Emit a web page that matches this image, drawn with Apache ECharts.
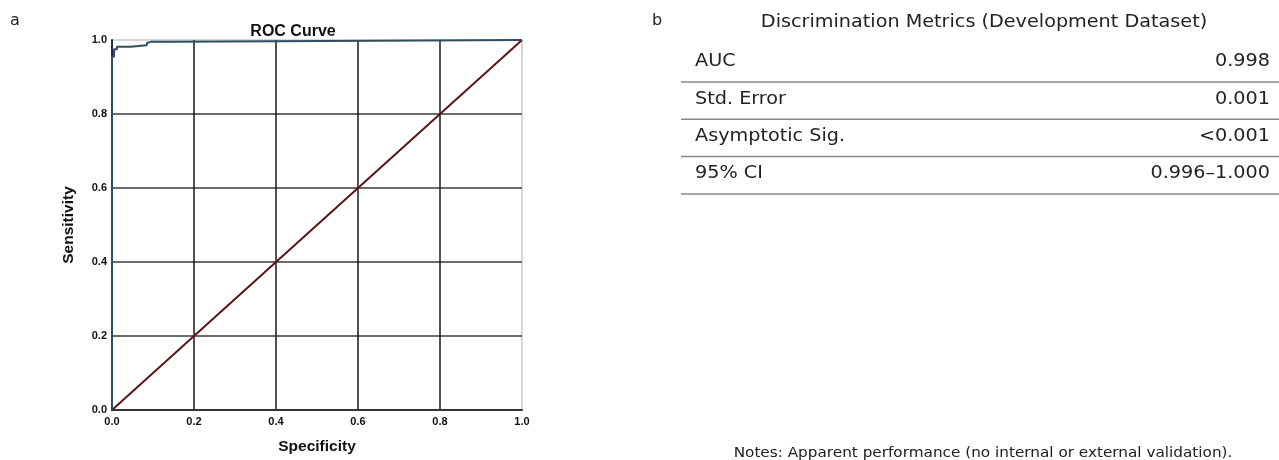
<!DOCTYPE html>
<html>
<head>
<meta charset="utf-8">
<script src="https://cdn.jsdelivr.net/npm/echarts@6/dist/echarts.min.js"></script>
<style>
  html, body { margin: 0; padding: 0; background: #fff; }
  #main { width: 1279px; height: 460px; }
</style>
</head>
<body>
<div id="main"></div>
<script>
  // ROC curve points (x = 1 - specificity, y = sensitivity)
  var rocX = [0, 0, 0.005, 0.005, 0.012, 0.012, 0.045, 0.045, 0.085, 0.085, 0.095, 0.15, 0.15, 1];
  var rocY = [0, 0.955, 0.955, 0.975, 0.975, 0.982, 0.982, 0.986, 0.986, 0.992, 0.995, 0.995, 1, 1];
  var refX = [0, 1];
  var refY = [0, 1];

  var metricNames = ['AUC', 'Std. Error', 'Asymptotic Sig.', '95% CI'];
  var metricValues = ['0.998', '0.001', '<0.001', '0.996\u20131.000'];
  var tableTitle = 'Discrimination Metrics (Development Dataset)';
  var noteText = 'Notes: Apparent performance (no internal or external validation).';

  var rocData = rocX.map(function (x, i) { return [x, rocY[i]]; });
  var refData = refX.map(function (x, i) { return [x, refY[i]]; });

  var sans = 'DejaVu Sans';
  var arial = 'Liberation Sans';
  // the right-hand panel text is a little wider than the font, stretch it
  var stretch = 1.13;

  var graphics = [
    { type: 'text', left: 10, top: 13, style: { text: 'a', font: '16px ' + sans, fill: '#222' } },
    { type: 'text', left: 652, top: 13, style: { text: 'b', font: '16px ' + sans, fill: '#222' } },
    { type: 'text', x: 984, y: 23, scaleX: stretch, style: { text: tableTitle, font: '17px ' + sans, fill: '#222',
        textAlign: 'center', textVerticalAlign: 'middle' } },
    { type: 'text', x: 983, y: 453, scaleX: 1.13, style: { text: noteText, font: '13.5px ' + sans, fill: '#222',
        textAlign: 'center', textVerticalAlign: 'middle' } }
  ];
  metricNames.forEach(function (name, i) {
    var y = 62 + i * 37.3;
    graphics.push({ type: 'text', x: 695, y: y, scaleX: stretch, style: { text: name, font: '17px ' + sans,
      fill: '#222', textVerticalAlign: 'middle' } });
    graphics.push({ type: 'text', x: 1270, y: y, scaleX: stretch, style: { text: metricValues[i],
      font: '17px ' + sans, fill: '#222', textAlign: 'right', textVerticalAlign: 'middle' } });
    graphics.push({ type: 'line', shape: { x1: 681, y1: y + 20, x2: 1279, y2: y + 20 },
      style: { stroke: '#888', lineWidth: 1.5 } });
  });

  var chart = echarts.init(document.getElementById('main'));
  chart.setOption({
    animation: false,
    title: {
      text: 'ROC Curve', left: 288, top: 19, textAlign: 'center',
      textStyle: { fontFamily: arial, fontSize: 16, fontWeight: 'bold', color: '#111' }
    },
    grid: { left: 112, top: 40, width: 410, height: 371, show: true, borderColor: '#b0b0b0', borderWidth: 1 },
    xAxis: {
      type: 'value', min: 0, max: 1, interval: 0.2,
      name: 'Specificity', nameLocation: 'middle', nameGap: 29,
      nameTextStyle: { fontFamily: arial, fontSize: 15.5, fontWeight: 'bold', color: '#111' },
      axisLine: { lineStyle: { color: '#333', width: 2 } },
      axisTick: { show: false },
      axisLabel: { fontFamily: arial, fontSize: 11, fontWeight: 'bold', color: '#111', margin: 6,
        formatter: function (v) { return v.toFixed(1); } },
      splitLine: { show: true, showMaxLine: false, lineStyle: { color: '#1a1a1a', width: 1.5 } }
    },
    yAxis: {
      type: 'value', min: 0, max: 1, interval: 0.2,
      name: 'Sensitivity', nameLocation: 'middle', nameGap: 35, nameRotate: 90,
      nameTextStyle: { fontFamily: arial, fontSize: 15.5, fontWeight: 'bold', color: '#111' },
      axisLine: { show: true, lineStyle: { color: '#1f2f4a', width: 2 } },
      axisTick: { show: false },
      axisLabel: { fontFamily: arial, fontSize: 11, fontWeight: 'bold', color: '#111', margin: 5,
        formatter: function (v) { return v.toFixed(1); } },
      splitLine: { show: true, showMaxLine: false, lineStyle: { color: '#3a3a3a', width: 1.5 } }
    },
    series: [
      {
        name: 'Reference', type: 'line', data: refData, symbol: 'none',
        lineStyle: { color: '#5a1414', width: 2 }, z: 3
      },
      {
        name: 'ROC', type: 'line', data: rocData, symbol: 'none',
        lineStyle: { color: '#2f4d5e', width: 2 }, z: 4
      }
    ],
    graphic: graphics
  });
</script>
</body>
</html>
